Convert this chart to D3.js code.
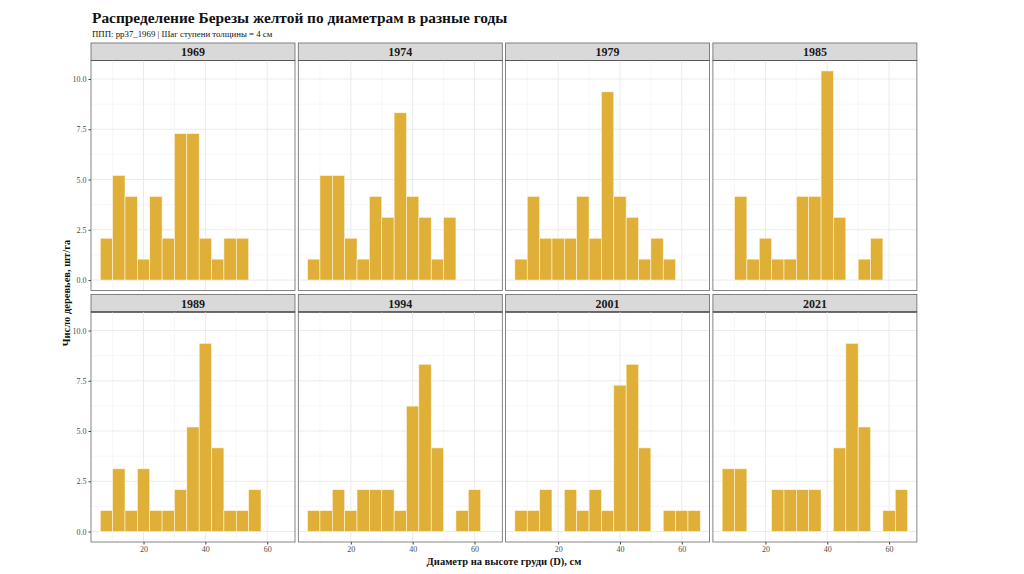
<!DOCTYPE html>
<html>
<head>
<meta charset="utf-8">
<script src="https://cdn.jsdelivr.net/npm/d3@7"></script>
<style>
  body { margin: 0; background: #fff; }
  text { font-family: "Liberation Serif", "DejaVu Serif", serif; }
</style>
</head>
<body>
<svg id="chart" width="1024" height="574"></svg>
<script>
// diameter classes (bin centres, cm), step 4 cm
var bins = [8, 12, 16, 20, 24, 28, 32, 36, 40, 44, 48, 52, 56, 60, 64];
var years = ["1969", "1974", "1979", "1985", "1989", "1994", "2001", "2021"];

// trees per ha in each class, 0 = no bar
var v1969 = [2.08, 5.2, 4.16, 1.04, 4.16, 2.08, 7.28, 7.28, 2.08, 1.04, 2.08, 2.08, 0, 0, 0];
var v1974 = [1.04, 5.2, 5.2, 2.08, 1.04, 4.16, 3.12, 8.32, 4.16, 3.12, 1.04, 3.12, 0, 0, 0];
var v1979 = [1.04, 4.16, 2.08, 2.08, 2.08, 4.16, 2.08, 9.36, 4.16, 3.12, 1.04, 2.08, 1.04, 0, 0];
var v1985 = [0, 4.16, 1.04, 2.08, 1.04, 1.04, 4.16, 4.16, 10.4, 3.12, 0, 1.04, 2.08, 0, 0];
var v1989 = [1.04, 3.12, 1.04, 3.12, 1.04, 1.04, 2.08, 5.2, 9.36, 4.16, 1.04, 1.04, 2.08, 0, 0];
var v1994 = [1.04, 1.04, 2.08, 1.04, 2.08, 2.08, 2.08, 1.04, 6.24, 8.32, 4.16, 0, 1.04, 2.08, 0];
var v2001 = [1.04, 1.04, 2.08, 0, 2.08, 1.04, 2.08, 1.04, 7.28, 8.32, 4.16, 0, 1.04, 1.04, 1.04];
var v2021 = [3.12, 3.12, 0, 0, 2.08, 2.08, 2.08, 2.08, 0, 4.16, 9.36, 5.2, 0, 1.04, 2.08];
var series = [v1969, v1974, v1979, v1985, v1989, v1994, v2001, v2021];

var yTicks = [0, 2.5, 5, 7.5, 10];
var yMinor = [1.25, 3.75, 6.25, 8.75];
var xTicks = [20, 40, 60];
var xMinor = [10, 30, 50];
var binWidth = 4;

var fill = "#DFAF38";
var svg = d3.select("#chart");

var panelW = 204, panelH = 230, gapX = 3.3;
var stripH = 17.5;
var left = 91;
var rowTop = [43, 294.5];

var x = d3.scaleLinear().domain([3, 69]).range([0, panelW]);
var y = d3.scaleLinear().domain([-0.52, 10.92]).range([panelH, 0]);

svg.append("text")
  .attr("x", 92).attr("y", 23)
  .style("font-size", "15.4px").style("font-weight", "bold").style("fill", "#111")
  .text("Распределение Березы желтой по диаметрам в разные годы");

svg.append("text")
  .attr("x", 92).attr("y", 37)
  .style("font-size", "8.8px").style("fill", "#111")
  .text("ППП: pp37_1969 | Шаг ступени толщины = 4 см");

years.forEach(function(yr, i) {
  var col = i % 4, row = Math.floor(i / 4);
  var px = left + col * (panelW + gapX);
  var sy = rowTop[row];
  var py = sy + stripH;

  // strip
  svg.append("rect")
    .attr("x", px).attr("y", sy).attr("width", panelW).attr("height", stripH)
    .style("fill", "#D9D9D9").style("stroke", "#666").style("stroke-width", 0.8);
  svg.append("line")
    .attr("x1", px).attr("x2", px + panelW).attr("y1", py).attr("y2", py)
    .style("stroke", "#222").style("stroke-width", 1.2);
  svg.append("text")
    .attr("x", px + panelW / 2).attr("y", sy + 13)
    .attr("text-anchor", "middle")
    .style("font-size", "12px").style("font-weight", "bold").style("fill", "#1a1a1a")
    .text(yr);

  var g = svg.append("g").attr("transform", "translate(" + px + "," + py + ")");

  g.selectAll(".ymin").data(yMinor).join("line")
    .attr("x1", 0).attr("x2", panelW)
    .attr("y1", d => y(d)).attr("y2", d => y(d))
    .style("stroke", "#F2F2F2").style("stroke-width", 0.6);
  g.selectAll(".xmin").data(xMinor).join("line")
    .attr("y1", 0).attr("y2", panelH)
    .attr("x1", d => x(d)).attr("x2", d => x(d))
    .style("stroke", "#F2F2F2").style("stroke-width", 0.6);
  g.selectAll(".ymaj").data(yTicks).join("line")
    .attr("x1", 0).attr("x2", panelW)
    .attr("y1", d => y(d)).attr("y2", d => y(d))
    .style("stroke", "#EBEBEB").style("stroke-width", 1);
  g.selectAll(".xmaj").data(xTicks).join("line")
    .attr("y1", 0).attr("y2", panelH)
    .attr("x1", d => x(d)).attr("x2", d => x(d))
    .style("stroke", "#EBEBEB").style("stroke-width", 1);

  var vals = series[i];
  g.selectAll(".bar").data(bins.map((b, k) => ({ b: b, v: vals[k] })).filter(d => d.v > 0))
    .join("rect")
    .attr("x", d => x(d.b - binWidth / 2))
    .attr("width", x(binWidth) - x(0))
    .attr("y", d => y(d.v))
    .attr("height", d => y(0) - y(d.v))
    .style("fill", fill)
    .style("stroke", "#FFF6DC").style("stroke-width", 0.6);

  g.append("rect")
    .attr("width", panelW).attr("height", panelH)
    .style("fill", "none").style("stroke", "#666").style("stroke-width", 0.8);

  if (col == 0) {
    var ya = g.append("g")
      .call(d3.axisLeft(y).tickValues(yTicks).tickSize(2.5).tickPadding(2).tickFormat(d3.format(".1f")));
    ya.select(".domain").remove();
    ya.selectAll("line").style("stroke", "#444");
    ya.selectAll("text").style("font-size", "8px").style("fill", "#4D4D4D")
      .style("font-family", "'Liberation Serif', serif");
  }
  if (row == 1) {
    var xa = g.append("g").attr("transform", "translate(0," + panelH + ")")
      .call(d3.axisBottom(x).tickValues(xTicks).tickSize(2.5).tickPadding(2).tickFormat(d3.format("d")));
    xa.select(".domain").remove();
    xa.selectAll("line").style("stroke", "#444");
    xa.selectAll("text").style("font-size", "8px").style("fill", "#4D4D4D")
      .style("font-family", "'Liberation Serif', serif");
  }
});

svg.append("text")
  .attr("transform", "translate(70,293) rotate(-90)")
  .attr("text-anchor", "middle")
  .style("font-size", "10.5px").style("font-weight", "bold").style("fill", "#111")
  .text("Число деревьев, шт/га");

svg.append("text")
  .attr("x", 504).attr("y", 565)
  .attr("text-anchor", "middle")
  .style("font-size", "10.5px").style("font-weight", "bold").style("fill", "#111")
  .text("Диаметр на высоте груди (D), см");
</script>
</body>
</html>
